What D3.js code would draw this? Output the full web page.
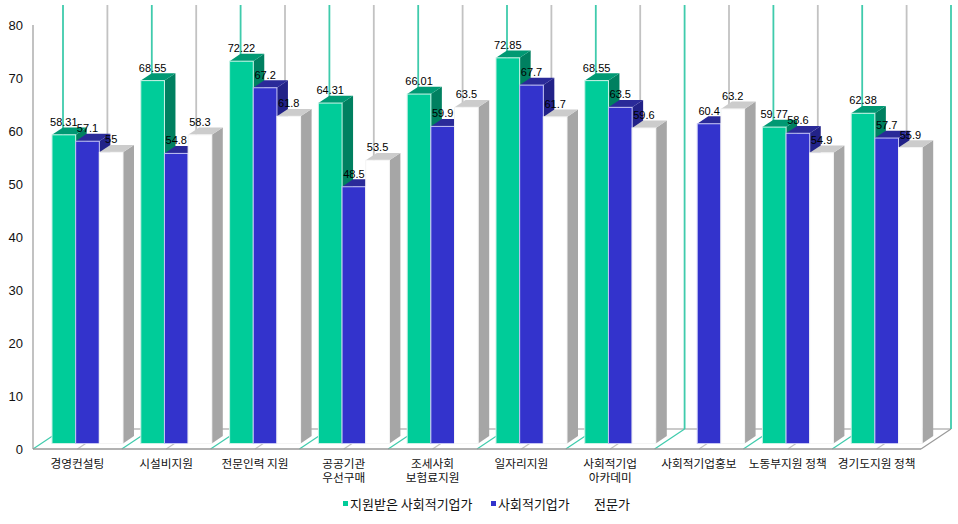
<!DOCTYPE html>
<html><head><meta charset="utf-8">
<script src="https://cdnjs.cloudflare.com/ajax/libs/d3/7.8.5/d3.min.js"></script>
<style>html,body{margin:0;background:#fff}svg{display:block}</style></head>
<body><script>
const categories = ["경영컨설팅","시설비지원","전문인력 지원","공공기관\n우선구매","조세사회\n보험료지원","일자리지원","사회적기업\n아카데미","사회적기업홍보","노동부지원 정책","경기도지원 정책"];
const seriesNames = ["지원받은 사회적기업가","사회적기업가","전문가"];
const supported = [58.31,68.55,72.22,64.31,66.01,72.85,68.55,null,59.77,62.38];
const entrepreneurs = [57.1,54.8,67.2,48.5,59.9,67.7,63.5,60.4,58.6,57.7];
const experts = [55,58.3,61.8,53.5,63.5,61.7,59.6,63.2,54.9,55.9];
const yTicks = [0,10,20,30,40,50,60,70,80];

const front = ["#00CC99","#3333CC","#FFFFFF"], topC = ["#009973","#2A2A99","#CCCCCC"],
      side = ["#008060","#222288","#A6A6A6"], edge = ["#C8F2E6","#C4C4F4","#F4F4F4"],
      wallC = ["#3FCBAC","#C2C2C2"];
const values = [supported, entrepreneurs, experts];
const W=958,H=524, dx=30, dy=20, bx=11, by=7.4;
const svg=d3.select("body").append("svg").attr("width",W).attr("height",H);
const x=d3.scaleBand().domain(categories).range([33,921]);
const inner=d3.scaleBand().domain(seriesNames).range([19,90]);
const y=d3.scaleLinear().domain([0,80]).range([449,25.5]);
const baseY=y(0), backY=baseY-dy;
const half=d3.range(categories.length*2+1).map(k=>x.range()[0]+k*x.bandwidth()/2);

// back wall and floor
const bg=svg.append("g").attr("fill","none");
bg.append("line").attr("x1",half[0]+dx).attr("x2",half[20]+dx).attr("y1",backY).attr("y2",backY).attr("stroke","#B8B8B8").attr("stroke-width",1.4);
half.forEach((h,k)=>{
  const c=wallC[k%2];
  bg.append("line").attr("x1",h+dx).attr("x2",h+dx).attr("y1",5).attr("y2",backY).attr("stroke",c).attr("stroke-width",1.8);
  bg.append("line").attr("x1",h).attr("x2",h+dx).attr("y1",baseY).attr("y2",backY).attr("stroke",k===20?"#999":c).attr("stroke-width",1.2);
});
// left wall + front floor axis
bg.append("line").attr("x1",33).attr("x2",33).attr("y1",25).attr("y2",baseY).attr("stroke","#999").attr("stroke-width",1.2);
bg.append("line").attr("x1",33).attr("x2",921).attr("y1",baseY).attr("y2",baseY).attr("stroke","#999").attr("stroke-width",1.5);

// bars
const shift=5.5;
const gBars=svg.append("g");
categories.forEach((cat,i)=>{
  seriesNames.forEach((s,j)=>{
    const v=values[j][i]; if(v==null) return;
    const l=x(cat)+inner(s), w=inner.bandwidth(), t=y(v)-shift, b=baseY-shift, r=l+w;
    gBars.append("path").attr("fill",side[j]).attr("d",`M${r},${t}L${r+bx},${t-by}L${r+bx},${b-by}L${r},${b}Z`);
    gBars.append("path").attr("fill",topC[j]).attr("d",`M${l},${t}L${l+bx},${t-by}L${r+bx},${t-by}L${r},${t}Z`);
    gBars.append("rect").attr("x",l).attr("y",t).attr("width",w).attr("height",b-t).attr("fill",front[j]).attr("stroke",edge[j]).attr("stroke-width",1);
  });
});
// value labels
const gVal=svg.append("g").attr("font-family","'Liberation Sans',Arial,sans-serif").attr("font-size",11).attr("text-anchor","middle").attr("fill","#000");
categories.forEach((cat,i)=>seriesNames.forEach((s,j)=>{
  const v=values[j][i]; if(v==null) return;
  gVal.append("text").attr("x",x(cat)+inner(s)+inner.bandwidth()/2).attr("y",y(v)-shift-9).text(v);
}));

// y axis
const ax=svg.append("g").attr("transform","translate(23,0)").call(d3.axisLeft(y).tickValues(yTicks).tickSize(0).tickPadding(0));
ax.select(".domain").remove();
ax.selectAll("text").attr("font-family","'Liberation Sans',Arial,sans-serif").attr("font-size",13).attr("fill","#111");

// x axis
const xa=svg.append("g").attr("transform",`translate(0,${baseY})`).call(d3.axisBottom(x).tickSize(0).tickFormat(()=>""));
xa.select(".domain").remove();
xa.selectAll(".tick text").each(function(d){
  const t=d3.select(this).attr("y",null).attr("dy",null).attr("font-family","'Noto Sans CJK KR',sans-serif").attr("font-size",11.7).attr("fill","#111");
  d.split("\n").forEach((line,n)=>t.append("tspan").attr("x",0).attr("y",19+n*14).text(line));
});

// legend
const legendX=[343,491,586], textX=[350,498,594];
const lg=svg.append("g").attr("font-family","'Noto Sans CJK KR',sans-serif").attr("font-size",13).attr("fill","#111");
seriesNames.forEach((s,j)=>{
  lg.append("rect").attr("x",legendX[j]).attr("y",501).attr("width",5).attr("height",5).attr("fill",front[j]);
  lg.append("text").attr("x",textX[j]).attr("y",508.5).text(s);
});
</script></body></html>
